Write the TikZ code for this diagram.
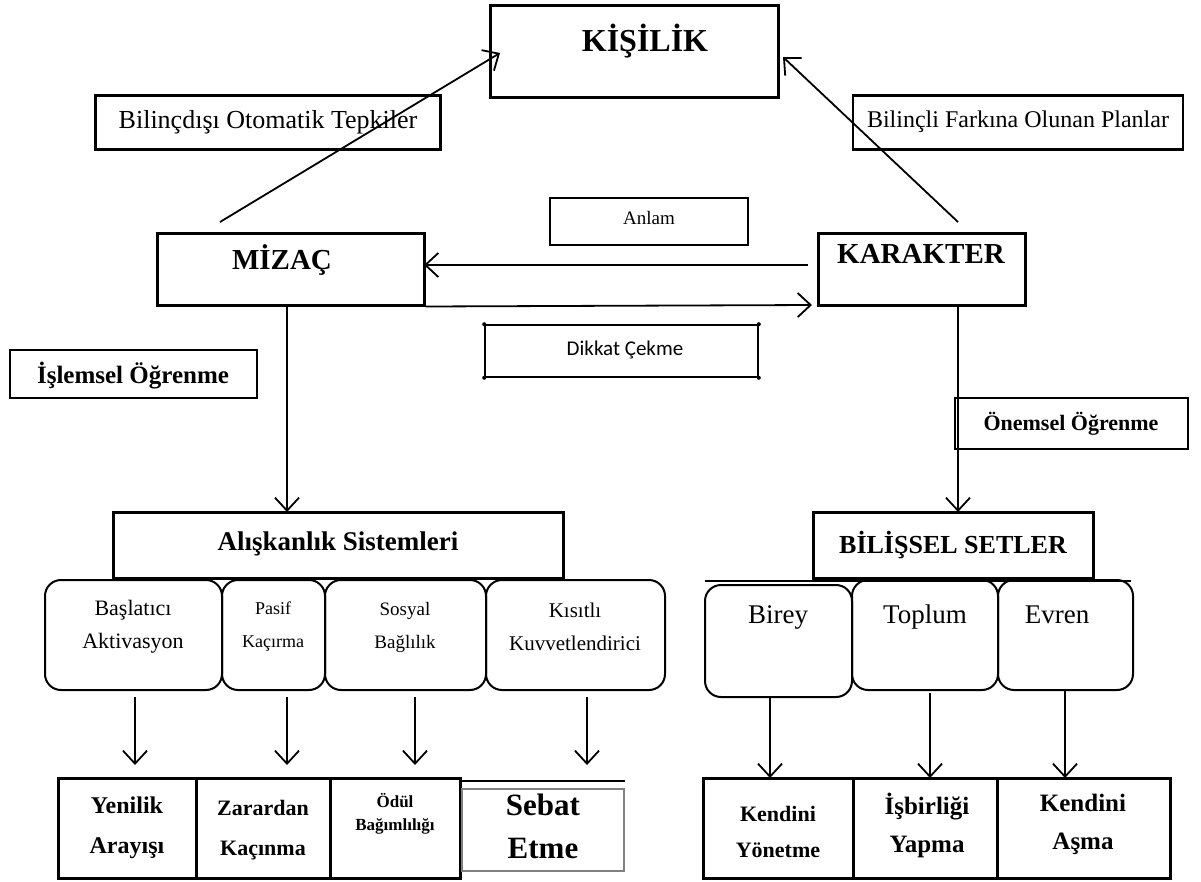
\documentclass[tikz,border=0pt]{standalone}
\usepackage{fontspec}
\setmainfont{Liberation Serif}
\newfontfamily\calfnt{Carlito}
\usetikzlibrary{arrows.meta}
\newcommand{\fs}[1]{\fontsize{#1}{#1}\selectfont}
\begin{document}
\begin{tikzpicture}[x=1pt,y=-1pt,
  box/.style={draw, line width=3pt, inner sep=0pt},
  lbox/.style={draw, line width=2.4pt, inner sep=0pt},
  tbox/.style={draw, line width=1.6pt, inner sep=0pt},
  rbox/.style={draw, line width=2pt, rounded corners=16pt, inner sep=0pt},
  arr/.style={line width=1.8pt, -{Straight Barb[length=13pt,width=24pt,line width=1.8pt]}},
  ln/.style={line width=1.7pt},
  txt/.style={inner sep=0pt, align=center},
]
\useasboundingbox (0,0) rectangle (1201,881);
\fill[white] (0,0) rectangle (1201,881);

% top
\node[box, minimum width=288, minimum height=92] (kis) at (634,51) {};
\node[txt, font=\bfseries\fs{32}] (kist) at (645,41) {KİŞİLİK};

\node[lbox, minimum width=345, minimum height=54] (lab1) at (268,122.5) {};
\node[txt, font=\fs{26}] (lab1t) at (268,122) {Bilinçdışı Otomatik Tepkiler};
\node[lbox, minimum width=330, minimum height=54] (lab2) at (1018,122.5) {};
\node[txt, font=\fs{24}] (lab2t) at (1018,122) {Bilinçli Farkına Olunan Planlar};

% middle
\node[tbox, minimum width=198, minimum height=47] (anl) at (649,221.5) {};
\node[txt, font=\fs{19}] (anlt) at (649,218) {Anlam};

\node[box, minimum width=267, minimum height=72] (miz) at (290.5,269) {};
\node[txt, font=\bfseries\fs{29}] (mizt) at (282,260) {MİZAÇ};
\node[box, minimum width=207, minimum height=72] (kar) at (921.5,269) {};
\node[txt, font=\bfseries\fs{29}] (kart) at (921,254) {KARAKTER};

\node[tbox, minimum width=273, minimum height=52] (dik) at (621.5,351) {};
\node[txt, font=\calfnt\fs{21}] (dikt) at (625,350) {Dikkat Çekme};
\foreach \c in {north west,north east,south west,south east}
  \fill (dik.\c) circle (2pt);

\node[tbox, minimum width=247, minimum height=48] (isl) at (133.5,374) {};
\node[txt, font=\bfseries\fs{25}] (islt) at (133,376) {İşlemsel Öğrenme};
\node[tbox, minimum width=233, minimum height=51] (onm) at (1071.5,423.5) {};
\node[txt, font=\bfseries\fs{22}] (onmt) at (1071,424) {Önemsel Öğrenme};

\coordinate (m1) at (220,222);
\coordinate (k1) at (500,53);
\coordinate (m2) at (958,222);
\coordinate (k2) at (783,57);
\coordinate (a1) at (808,265);
\coordinate (a2) at (424,265);
\coordinate (d2) at (812,305);
\draw[arr] (m1) -- (k1);
\draw[arr] (m2) -- (k2);
\draw[arr] (a1) -- (a2);
\draw[arr] (miz.south east) -- (d2);

% systems
\node[box, minimum width=450, minimum height=66] (alis) at (338,545) {};
\node[txt, font=\bfseries\fs{27}] (alist) at (338,544) {Alışkanlık Sistemleri};
\node[box, minimum width=280, minimum height=66] (bil) at (953,545) {};
\node[txt, font=\bfseries\fs{26}] (bilt) at (953,545) {BİLİŞSEL SETLER};

\coordinate (ms) at (287,305);
\coordinate (as) at (287,512);
\coordinate (ks) at (958,305);
\coordinate (bs) at (958,512);
\draw[arr] (ms) -- (as);
\draw[arr] (ks) -- (bs);

% left rounded row
\node[rbox, minimum width=177, minimum height=110] (r1) at (133.5,635) {};
\node[rbox, minimum width=103, minimum height=110] (r2) at (273.5,635) {};
\node[rbox, minimum width=161, minimum height=110] (r3) at (405.5,635) {};
\node[rbox, minimum width=179, minimum height=110] (r4) at (575.5,635) {};
\node[txt, font=\fontsize{22}{33}\selectfont] (r1t) at (133,627) {Başlatıcı\\Aktivasyon};
\node[txt, font=\fontsize{18}{33}\selectfont] (r2t) at (273,627) {Pasif\\Kaçırma};
\node[txt, font=\fontsize{19}{33}\selectfont] (r3t) at (405,627) {Sosyal\\Bağlılık};
\node[txt, font=\fontsize{21}{33}\selectfont] (r4t) at (575,627) {Kısıtlı\\Kuvvetlendirici};

% right rounded row
\draw[ln] (705,581) -- (1131,581);
\node[rbox, minimum width=147, minimum height=112] (s1) at (778.5,641) {};
\node[rbox, minimum width=146, minimum height=110] (s2) at (925,635) {};
\node[rbox, minimum width=135, minimum height=110] (s3) at (1065.5,635) {};
\node[txt, font=\fs{27}] (s1t) at (778,617) {Birey};
\node[txt, font=\fs{27}] (s2t) at (925,617) {Toplum};
\node[txt, font=\fs{27}] (s3t) at (1057,615) {Evren};

% bottom left
\node[box, minimum width=138, minimum height=100] (y1) at (127,828) {};
\node[box, minimum width=134, minimum height=100] (y2) at (263,828) {};
\node[box, minimum width=130, minimum height=100] (y3) at (395,828) {};
\node[draw=gray, line width=1.2pt, minimum width=162, minimum height=82, inner sep=0pt] (y4) at (543,830) {};
\coordinate (st1) at (461,781);
\coordinate (st2) at (625,781);
\draw[line width=2.4pt] (st1) -- (st2);
\node[txt, font=\bfseries\fontsize{24}{40}\selectfont] (y1t) at (127,828) {Yenilik\\Arayışı};
\node[txt, font=\bfseries\fontsize{22}{40}\selectfont] (y2t) at (263,830) {Zarardan\\Kaçınma};
\node[txt, font=\bfseries\fontsize{17}{23}\selectfont] (y3t) at (395,814) {Ödül\\Bağımlılığı};
\node[txt, font=\bfseries\fontsize{31}{43}\selectfont] (y4t) at (543,826) {Sebat\\Etme};

\coordinate (p1) at (135,697); \coordinate (q1) at (135,765);
\coordinate (p2) at (287,697); \coordinate (q2) at (287,765);
\coordinate (p3) at (415,697); \coordinate (q3) at (415,765);
\coordinate (p4) at (587,697); \coordinate (q4) at (587,765);
\draw[arr] (p1) -- (q1);
\draw[arr] (p2) -- (q2);
\draw[arr] (p3) -- (q3);
\draw[arr] (p4) -- (q4);

% bottom right
\node[box, minimum width=150, minimum height=100] (z1) at (778,828) {};
\node[box, minimum width=144, minimum height=100] (z2) at (925,828) {};
\node[box, minimum width=173, minimum height=100] (z3) at (1083.5,828) {};
\node[txt, font=\bfseries\fontsize{22}{36}\selectfont] (z1t) at (778,832) {Kendini\\Yönetme};
\node[txt, font=\bfseries\fontsize{25}{38}\selectfont] (z2t) at (927,825) {İşbirliği\\Yapma};
\node[txt, font=\bfseries\fontsize{25}{38}\selectfont] (z3t) at (1083,824) {Kendini\\Aşma};

\coordinate (u1) at (770,697); \coordinate (v1) at (770,778);
\coordinate (u2) at (930,693); \coordinate (v2) at (930,778);
\coordinate (u3) at (1065,690); \coordinate (v3) at (1065,778);
\draw[arr] (u1) -- (v1);
\draw[arr] (u2) -- (v2);
\draw[arr] (u3) -- (v3);
\end{tikzpicture}
\end{document}
